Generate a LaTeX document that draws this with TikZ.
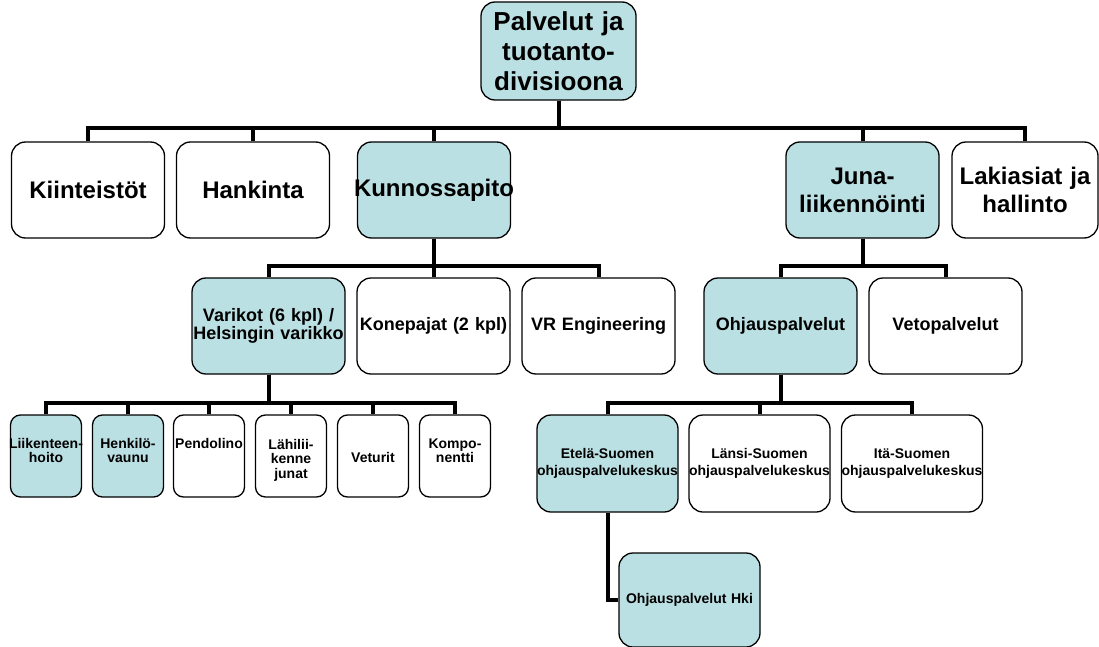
\documentclass[tikz,border=0pt]{standalone}
\usepackage{fontspec}
\setmainfont{Liberation Sans}
\definecolor{vrfill}{RGB}{187,224,227}
\hyphenpenalty=10000
\exhyphenpenalty=10000
\begin{document}
\begin{tikzpicture}[x=1pt,y=-1pt,
  box/.style={draw,line width=1.3pt,rounded corners=14pt,inner sep=0pt,align=center},
  hl/.style={fill=vrfill},
  big/.style={box,text width=153pt,minimum height=96pt,font=\bfseries\fontsize{24}{28}\selectfont},
  mid/.style={box,text width=153pt,minimum height=96pt,font=\bfseries\fontsize{18}{18}\selectfont},
  leaf/.style={box,rounded corners=10pt,text width=71pt,minimum height=82pt,font=\bfseries\fontsize{14}{14.5}\selectfont,
    execute at begin node={\rule{0pt}{18pt}}},
  centre/.style={box,text width=141pt,minimum height=97pt,font=\bfseries\fontsize{14}{17}\selectfont},
  conn/.style={line width=4pt}]
\useasboundingbox (0,0) rectangle (1099,647);
% top
\node[box,hl,text width=155pt,minimum height=98pt,font=\bfseries\fontsize{26}{30}\selectfont] (div) at (558.5,51) {Palvelut ja\\tuotanto-\\divisioona};
% first level
\node[big] (kiint) at (88,190) {Kiinteistöt};
\node[big] (hank) at (253,190) {Hankinta};
\node[big,hl] (kunn) at (434,190) {\makebox[\linewidth]{Kunnossapito}};
\node[big,hl] (juna) at (862.5,190) {Juna-\\liikennöinti};
\node[big,text width=146pt] (laki) at (1025,190) {Lakiasiat ja\\hallinto};
% second level
\node[mid,hl] (varikot) at (268.5,326) {Varikot (6 kpl) /\\Helsingin varikko};
\node[mid] (konep) at (433.5,326) {Konepajat (2 kpl)};
\node[mid] (vreng) at (598.5,326) {VR Engineering};
\node[mid,hl] (ohjaus) at (780.5,326) {Ohjauspalvelut};
\node[mid] (veto) at (945.5,326) {Vetopalvelut};
% depots
\node[leaf,hl] (liik) at (46,456) {\makebox[\linewidth]{Liikenteen-}\\hoito\\\strut};
\node[leaf,hl] (henk) at (128,456) {Henkilö-\\vaunu\\\strut};
\node[leaf] (pend) at (209,456) {Pendolino\\\strut\\\strut};
\node[leaf] (lahi) at (291,456) {Lähilii-\\kenne\\junat};
\node[leaf] (vet) at (373,456) {\mbox{}\\Veturit\\\strut};
\node[leaf] (komp) at (455,456) {Kompo-\\nentti\\\strut};
% control centres
\node[centre,hl] (etela) at (607.5,463.5) {Etelä-Suomen\\ohjauspalvelukeskus};
\node[centre] (lansi) at (759.5,463.5) {Länsi-Suomen\\ohjauspalvelukeskus};
\node[centre] (ita) at (912,463.5) {Itä-Suomen\\ohjauspalvelukeskus};
\node[centre,hl,minimum height=94pt] (hki) at (689.5,600) {Ohjauspalvelut Hki};
% connectors
\foreach \c in {kiint,hank,kunn,juna,laki}
  \draw[conn] (div.south) -- ++(0,27) -| (\c.north);
\foreach \c in {varikot,konep,vreng}
  \draw[conn] (kunn.south) -- ++(0,27) -| (\c.north);
\foreach \c in {ohjaus,veto}
  \draw[conn] (juna.south) -- ++(0,27) -| (\c.north);
\foreach \c in {liik,henk,pend,lahi,vet,komp}
  \draw[conn] (varikot.south) -- ++(0,28) -| (\c.north);
\foreach \c in {etela,lansi,ita}
  \draw[conn] (ohjaus.south) -- ++(0,28) -| (\c.north);
\draw[conn] (etela.south) |- (hki.west);
\end{tikzpicture}
\end{document}
